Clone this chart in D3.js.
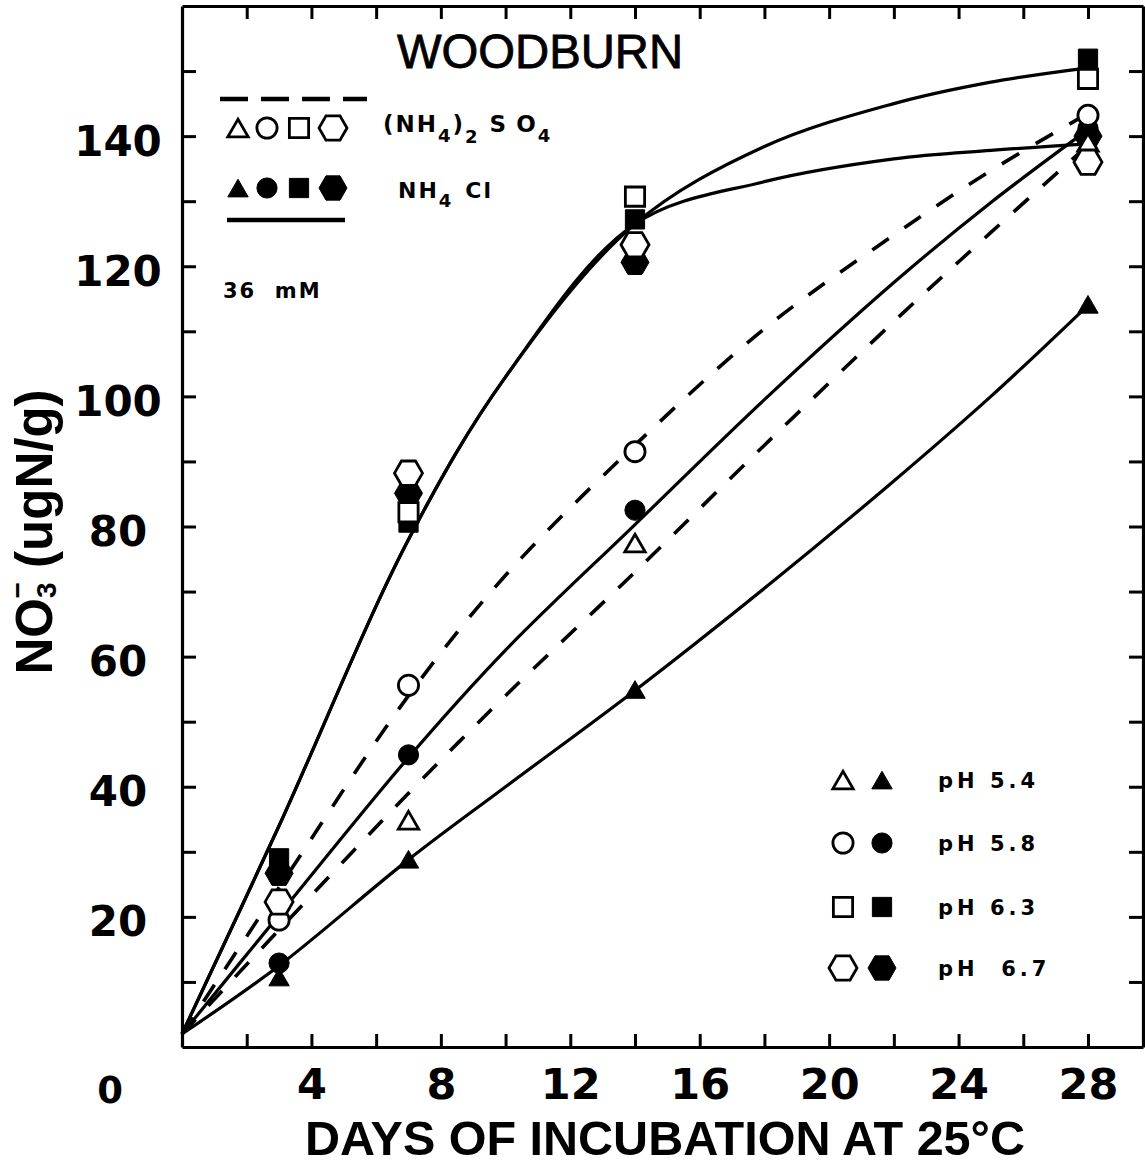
<!DOCTYPE html>
<html>
<head>
<meta charset="utf-8">
<script src="https://cdn.jsdelivr.net/npm/d3@7"></script>
<style>
	body { margin: 0; background: #fff; }
	svg { display: block; font-family: "Liberation Sans", Arial, sans-serif; }
</style>
</head>
<body>
<div id="chart"></div>
<script>
// sampling days
const days = [3, 7, 14, 28];
const phLabels = ["pH 5.4", "pH 5.8", "pH 6.3", "pH \u00a06.7"];
const shapeNames = ["triangle", "circle", "square", "hexagon"];

// (NH4)2SO4, open symbols, one row per pH (5.4, 5.8, 6.3, 6.7)
// null = not visible on the plot
const sulfate = [
	[null, 34.4, 77, 138.6],
	[19.5, 55.6, 91.5, 143.2],
	[null, 82.2, 130.7, 148.8],
	[22.3, 88.2, 123.3, 136]
];
// NH4Cl, filled symbols
const chloride = [
	[10.3, 28.4, 54.5, 113.7],
	[12.9, 44.9, 82.5, 141.2],
	[29, 80.6, 127.2, 151.9],
	[26.7, 85.1, 120.6, 140]
];

// hand drawn fit curves, read at these days
const fitDays = [0, 3, 7, 10, 14, 18, 22, 25, 28];
const fitSulfate58 = [2, 24.5, 54, 72.5, 92.5, 110.4, 124.8, 134.7, 143.5];
const fitSulfate54 = [2, 18, 39, 54, 73, 92.5, 111.5, 125.2, 138.6];
const fitChloride58 = [2, 20.3, 44.5, 61, 80.3, 99.5, 117.5, 129.8, 141];
const fitChloride54 = [2, 12.5, 28.8, 40, 54.8, 70.5, 87, 100, 114];
const fitChloride63 = [2, 34, 78, 103, 126.5, 138.4, 145, 148.3, 150.5];
const fitChloride67 = [2, 34, 78, 103, 126.5, 133, 136.5, 137.8, 138.8];

const xTickLabels = [4, 8, 12, 16, 20, 24, 28];
const yTickLabels = [20, 40, 60, 80, 100, 120, 140];

const width = 1145, height = 1166;
const x = d3.scaleLinear().domain([0, 29.7]).range([182, 1143]);
const y = d3.scaleLinear().domain([0, 160]).range([1047, 6]);

const svg = d3.select("#chart").append("svg")
	.attr("width", width)
	.attr("height", height);

// hexagon symbol, pointed left and right
const symbolHexagon = {
	draw(context, size) {
		const r = Math.sqrt(size / (3 * Math.sqrt(3) / 2));
		const h = r * Math.sqrt(3) / 2;
		context.moveTo(r, 0);
		context.lineTo(r / 2, h);
		context.lineTo(-r / 2, h);
		context.lineTo(-r, 0);
		context.lineTo(-r / 2, -h);
		context.lineTo(r / 2, -h);
		context.closePath();
	}
};
const symbolTypes = {
	triangle: [d3.symbolTriangle, 180],
	circle: [d3.symbolCircle, 320],
	square: [d3.symbolSquare, 370],
	hexagon: [symbolHexagon, 510]
};
const symbolPath = (name) => d3.symbol().type(symbolTypes[name][0]).size(symbolTypes[name][1])();

// frame with inward ticks
const minorX = d3.range(2, 29, 2);
const minorY = d3.range(10, 160, 10);

const xAxis = svg.append("g")
	.attr("transform", `translate(0, ${y(0)})`)
	.call(d3.axisBottom(x).tickValues(minorX).tickSizeInner(-13).tickSizeOuter(0)
		.tickPadding(21).tickFormat((d) => xTickLabels.includes(d) ? d : ""));
xAxis.selectAll("text")
	.attr("font-family", "DejaVu Sans")
	.attr("font-weight", "bold")
	.attr("font-size", 43);

svg.append("g")
	.attr("transform", `translate(0, ${y(160)})`)
	.call(d3.axisTop(x).tickValues(minorX).tickSizeInner(-13).tickSizeOuter(0).tickFormat(""));

const yAxis = svg.append("g")
	.attr("transform", `translate(${x(0)}, 0)`)
	.call(d3.axisLeft(y).tickValues(minorY).tickSizeInner(-14).tickSizeOuter(0)
		.tickFormat((d) => yTickLabels.includes(d) ? d : ""));
yAxis.selectAll("text")
	.attr("x", -64)
	.attr("dy", "0.45em")
	.attr("text-anchor", "middle")
	.attr("font-family", "DejaVu Sans")
	.attr("font-weight", "bold")
	.attr("font-size", 42);

svg.append("g")
	.attr("transform", `translate(${x(29.7)}, 0)`)
	.call(d3.axisRight(y).tickValues(minorY).tickSizeInner(-14).tickSizeOuter(0).tickFormat(""));

svg.selectAll(".domain").attr("stroke-width", 3.2);
svg.selectAll(".tick line").attr("stroke-width", 3);

// the lone zero, set low at the corner
svg.append("text")
	.attr("x", 110)
	.attr("y", 1103)
	.attr("text-anchor", "middle")
	.attr("font-family", "DejaVu Sans")
	.attr("font-weight", "bold")
	.attr("font-size", 37)
	.text("0");

// axis titles
svg.append("text")
	.attr("x", 665)
	.attr("y", 1155)
	.attr("text-anchor", "middle")
	.attr("font-weight", "bold")
	.attr("font-size", 48)
	.attr("textLength", 720)
	.attr("lengthAdjust", "spacingAndGlyphs")
	.text("DAYS OF INCUBATION AT 25\u00b0C");

const yTitle = svg.append("text")
	.attr("transform", "translate(52, 532) rotate(-90)")
	.attr("text-anchor", "middle")
	.attr("font-weight", "bold")
	.attr("font-size", 51);
yTitle.append("tspan").text("NO");
yTitle.append("tspan").attr("font-size", 28).attr("dy", 4).text("3");
yTitle.append("tspan").attr("font-size", 28).attr("dx", -16).attr("dy", -29).text("\u2212");
yTitle.append("tspan").attr("dy", 25).text(" (ugN/g)");

// fit curves
const line = d3.line()
	.x((d, i) => x(fitDays[i]))
	.y((d) => y(d))
	.curve(d3.curveCatmullRom.alpha(0.5));

const fits = [
	{ values: fitSulfate58, dashed: true },
	{ values: fitSulfate54, dashed: true },
	{ values: fitChloride58, dashed: false },
	{ values: fitChloride54, dashed: false },
	{ values: fitChloride63, dashed: false },
	{ values: fitChloride67, dashed: false }
];

svg.append("g")
	.selectAll("path")
	.data(fits)
	.join("path")
	.attr("fill", "none")
	.attr("stroke", "#000")
	.attr("stroke-width", (d) => d.dashed ? 3.6 : 3.2)
	.attr("stroke-dasharray", (d) => d.dashed ? "20,19" : null)
	.attr("d", (d) => line(d.values));

// points: filled first, open ones sit on top of them
function drawPoints(rows, filled) {
	rows.forEach((vals, k) => {
		svg.append("g")
			.selectAll("path")
			.data(vals.map((v, i) => ({ day: days[i], v })).filter((d) => d.v != null))
			.join("path")
			.attr("transform", (d) => `translate(${x(d.day)}, ${y(d.v)})`)
			.attr("d", symbolPath(shapeNames[k]))
			.attr("fill", filled ? "#000" : "#fff")
			.attr("stroke", "#000")
			.attr("stroke-width", filled ? 1 : 2.8);
	});
}
drawPoints(chloride, true);
drawPoints(sulfate, false);

// upper left key
svg.append("text")
	.attr("x", 397)
	.attr("y", 68)
	.attr("font-size", 48)
	.attr("stroke", "#000")
	.attr("stroke-width", 0.8)
	.attr("textLength", 286)
	.attr("lengthAdjust", "spacingAndGlyphs")
	.text("WOODBURN");

svg.append("line")
	.attr("x1", 220).attr("x2", 367)
	.attr("y1", 99).attr("y2", 99)
	.attr("stroke", "#000")
	.attr("stroke-width", 4.5)
	.attr("stroke-dasharray", "28,13");

svg.append("line")
	.attr("x1", 227).attr("x2", 345)
	.attr("y1", 220).attr("y2", 220)
	.attr("stroke", "#000")
	.attr("stroke-width", 4.5);

const keyX = [238, 267, 299, 333];
shapeNames.forEach((s, k) => {
	svg.append("path")
		.attr("transform", `translate(${keyX[k]}, ${s === "triangle" ? 131 : 128})`)
		.attr("d", symbolPath(s))
		.attr("fill", "#fff").attr("stroke", "#000").attr("stroke-width", 2.8);
	svg.append("path")
		.attr("transform", `translate(${keyX[k]}, ${s === "triangle" ? 191 : 188})`)
		.attr("d", symbolPath(s))
		.attr("fill", "#000").attr("stroke", "#000");
});

const keyFont = (t) => t
	.attr("font-family", "DejaVu Sans")
	.attr("font-weight", "bold");

const sulfText = svg.append("text")
	.attr("x", 383).attr("y", 132)
	.attr("font-size", 23)
	.attr("letter-spacing", 2)
	.call(keyFont);
sulfText.append("tspan").text("(NH");
sulfText.append("tspan").attr("font-size", 18).attr("dy", 10).text("4");
sulfText.append("tspan").attr("dy", -10).text(")");
sulfText.append("tspan").attr("font-size", 18).attr("dy", 11).text("2");
sulfText.append("tspan").attr("dy", -11).attr("dx", 10).text("S");
sulfText.append("tspan").attr("dx", 8).text("O");
sulfText.append("tspan").attr("font-size", 18).attr("dy", 10).text("4");

const clText = svg.append("text")
	.attr("x", 398).attr("y", 198)
	.attr("font-size", 22)
	.attr("letter-spacing", 2)
	.call(keyFont);
clText.append("tspan").text("NH");
clText.append("tspan").attr("font-size", 18).attr("dy", 9).text("4");
clText.append("tspan").attr("dy", -9).attr("dx", 12).text("Cl");

svg.append("text")
	.attr("x", 223).attr("y", 298)
	.attr("font-size", 21)
	.attr("letter-spacing", 2)
	.style("white-space", "pre")
	.call(keyFont)
	.text("36  mM");

// lower right key
const rowY = [780, 843, 907, 968];
shapeNames.forEach((s, k) => {
	const dy = s === "triangle" ? 3 : 0;
	svg.append("path")
		.attr("transform", `translate(843, ${rowY[k] + dy})`)
		.attr("d", symbolPath(s))
		.attr("fill", "#fff").attr("stroke", "#000").attr("stroke-width", 2.8);
	svg.append("path")
		.attr("transform", `translate(882, ${rowY[k] + dy})`)
		.attr("d", symbolPath(s))
		.attr("fill", "#000").attr("stroke", "#000");
	svg.append("text")
		.attr("x", 938).attr("y", rowY[k] + 8)
		.attr("font-size", 21)
		.attr("letter-spacing", 4)
		.call(keyFont)
		.text(phLabels[k]);
});
</script>
</body>
</html>
